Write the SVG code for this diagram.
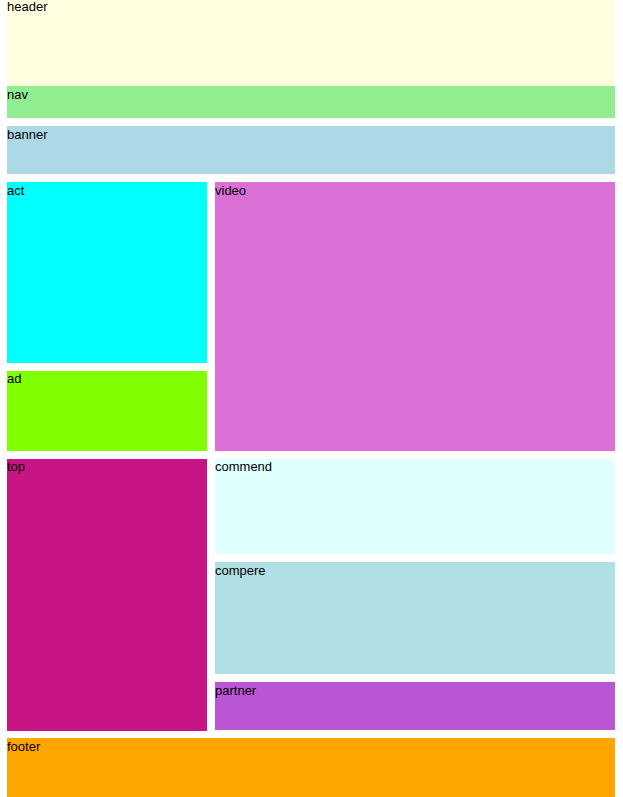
<svg xmlns="http://www.w3.org/2000/svg" width="623" height="797" viewBox="0 0 623 797">
<style>
text{font-family:"Liberation Sans",Arial,sans-serif;font-size:13px;fill:#000}
</style>
<rect width="623" height="797" fill="#fff"/>
<g id="header"><rect x="7" y="0" width="608" height="86" fill="#ffffe0"/><text x="7" y="11">header</text></g>
<g id="nav"><rect x="7" y="86" width="608" height="32" fill="#90ee90"/><text x="7" y="99">nav</text></g>
<g id="banner"><rect x="7" y="126" width="608" height="48" fill="#add8e6"/><text x="7" y="139">banner</text></g>
<g id="act"><rect x="7" y="182" width="200" height="181" fill="#00ffff"/><text x="7" y="195">act</text></g>
<g id="ad"><rect x="7" y="371" width="200" height="80" fill="#7fff00"/><text x="7" y="383">ad</text></g>
<g id="video"><rect x="215" y="182" width="400" height="269" fill="#da70d6"/><text x="215" y="195">video</text></g>
<g id="top"><rect x="7" y="459" width="200" height="272" fill="#c71585"/><text x="7" y="471">top</text></g>
<g id="commend"><rect x="215" y="459" width="400" height="95" fill="#e0ffff"/><text x="215" y="471">commend</text></g>
<g id="compere"><rect x="215" y="562" width="400" height="112" fill="#b0e0e6"/><text x="215" y="575">compere</text></g>
<g id="partner"><rect x="215" y="682" width="400" height="48" fill="#ba55d3"/><text x="215" y="695">partner</text></g>
<g id="footer"><rect x="7" y="738" width="608" height="59" fill="#ffa500"/><text x="7" y="751">footer</text></g>
<g id="connectors"/>
</svg>
